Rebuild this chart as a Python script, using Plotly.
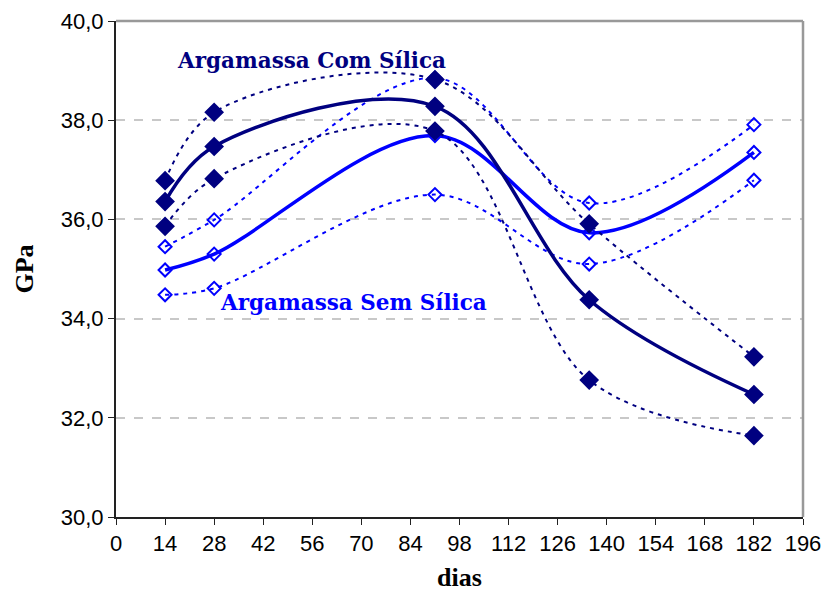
import plotly.graph_objects as go

# Ages of the specimens (days)
dias = [14, 28, 91, 135, 182]

# Mortar with silica fume: mean and upper/lower bounds (GPa)
com_media = [36.36, 37.47, 38.28, 34.38, 32.47]
com_sup = [36.78, 38.16, 38.82, 35.91, 33.23]
com_inf = [35.86, 36.82, 37.78, 32.76, 31.64]

# Mortar without silica fume: mean and upper/lower bounds (GPa)
sem_media = [34.98, 35.30, 37.69, 35.73, 37.35]
sem_sup = [35.45, 35.99, 38.85, 36.33, 37.91]
sem_inf = [34.48, 34.61, 36.50, 35.10, 36.79]

x_ticks = list(range(0, 197, 14))
y_ticks = [30, 32, 34, 36, 38, 40]
y_tick_text = ["30,0", "32,0", "34,0", "36,0", "38,0", "40,0"]

NAVY = "#000080"
BLUE = "#0000FF"

fig = go.Figure()


def series(y, color, filled, width, dash):
    return go.Scatter(
        x=dias, y=y, mode="lines+markers",
        line=dict(color=color, width=width, dash=dash, shape="spline", smoothing=1.0),
        marker=dict(symbol="diamond" if filled else "diamond-open", size=13 if filled else 10,
                    color=color, line=dict(color=color, width=2)),
        showlegend=False, hoverinfo="x+y",
    )


# Sem sílica (open diamonds) below, com sílica (filled) on top
fig.add_trace(series(sem_sup, BLUE, False, 2, "4px,5px"))
fig.add_trace(series(sem_inf, BLUE, False, 2, "4px,5px"))
fig.add_trace(series(sem_media, BLUE, False, 3.5, "solid"))
fig.add_trace(series(com_sup, NAVY, True, 2, "4px,5px"))
fig.add_trace(series(com_inf, NAVY, True, 2, "4px,5px"))
fig.add_trace(series(com_media, NAVY, True, 3.5, "solid"))

fig.add_annotation(x=0.285, y=0.92, xref="paper", yref="paper", xanchor="center", yanchor="middle",
                   text="Argamassa Com Sílica", showarrow=False,
                   font=dict(family="DejaVu Serif", size=21.5, color=NAVY, weight="bold"))
fig.add_annotation(x=0.345, y=0.432, xref="paper", yref="paper", xanchor="center", yanchor="middle",
                   text="Argamassa Sem Sílica", showarrow=False,
                   font=dict(family="DejaVu Serif", size=21.5, color=BLUE, weight="bold"))

# Plot-area frame on the top and right sides
fig.add_shape(type="line", xref="paper", yref="paper", x0=0, x1=1, y0=1, y1=1,
              line=dict(color="#999999", width=2.5), layer="above")
fig.add_shape(type="line", xref="paper", yref="paper", x0=1, x1=1, y0=0, y1=1,
              line=dict(color="#999999", width=2.5), layer="above")

fig.update_layout(
    width=824, height=594,
    margin=dict(l=116, r=21, t=21, b=77),
    paper_bgcolor="white", plot_bgcolor="white",
    font=dict(family="Liberation Sans Narrow, Liberation Sans", size=22, color="black"),
    showlegend=False,
)
fig.update_xaxes(
    range=[0, 196], tickvals=x_ticks, ticktext=[str(v) for v in x_ticks],
    showgrid=False, zeroline=False, showline=True, linecolor="#222222", linewidth=2,
    ticks="outside", ticklen=6, tickcolor="#222222", automargin=False,
    title=dict(text="<b>dias</b>", font=dict(family="Liberation Serif", size=26), standoff=12),
)
fig.update_yaxes(
    range=[30, 40], tickvals=y_ticks, ticktext=y_tick_text,
    showgrid=True, gridcolor="#c8c8c8", griddash="dash", gridwidth=1.5,
    zeroline=False, showline=True, linecolor="#222222", linewidth=2,
    ticks="outside", ticklen=6, tickcolor="#222222", automargin=False,
    title=dict(text="<b>GPa</b>", font=dict(family="Liberation Serif", size=26), standoff=20),
)

fig.write_html("out.html")
